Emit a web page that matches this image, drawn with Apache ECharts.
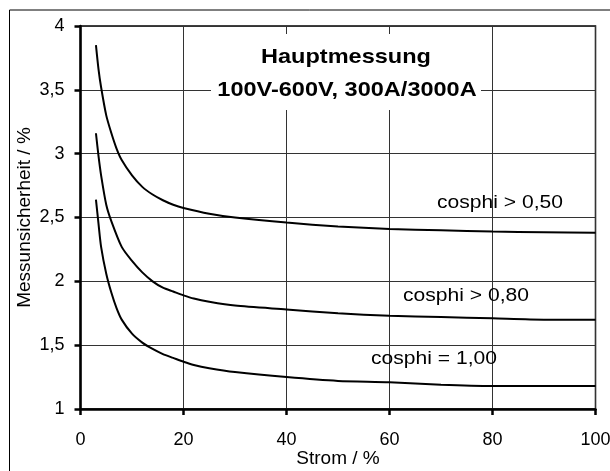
<!DOCTYPE html>
<html><head><meta charset="utf-8">
<script src="https://cdn.jsdelivr.net/npm/echarts@6/dist/echarts.min.js"></script>
<style>html,body{margin:0;padding:0;background:#fff}#c{width:610px;height:471px}</style>
</head><body><div id="c"></div>
<script>
const xTop = [3, 3.5, 4, 5, 6, 7, 8, 10, 12, 14, 16, 18, 20, 25, 30, 40, 50, 60, 70, 80, 90, 100];
const yTop = [3.85, 3.66, 3.52, 3.30, 3.16, 3.04, 2.95, 2.83, 2.74, 2.68, 2.635, 2.60, 2.575, 2.53, 2.50, 2.46, 2.43, 2.41, 2.40, 2.39, 2.385, 2.38];
const xMid = [3, 3.5, 4, 5, 6, 8, 10, 12, 14, 16, 18, 20, 22, 25, 30, 40, 50, 60, 70, 80, 90, 100];
const yMid = [3.16, 2.98, 2.83, 2.60, 2.47, 2.27, 2.16, 2.07, 2.00, 1.95, 1.92, 1.89, 1.865, 1.84, 1.81, 1.78, 1.75, 1.73, 1.72, 1.71, 1.70, 1.70];
const xLow = [3, 3.5, 4, 5, 6, 7, 8, 10, 12, 14, 16, 18, 20, 22, 25, 30, 40, 50, 60, 70, 80, 90, 100];
const yLow = [2.64, 2.45, 2.27, 2.06, 1.91, 1.79, 1.70, 1.59, 1.52, 1.47, 1.43, 1.40, 1.37, 1.345, 1.32, 1.29, 1.25, 1.22, 1.21, 1.19, 1.18, 1.18, 1.18];
const seriesNames = ['cosphi > 0,50', 'cosphi > 0,80', 'cosphi = 1,00'];
const titleLines = ['Hauptmessung', '100V-600V, 300A/3000A'];
const xAxisName = 'Strom / %';
const yAxisName = 'Messunsicherheit / %';

const pairs = (xs, ys) => xs.map((x, i) => [x, ys[i]]);
const FONT = '"Liberation Sans", Arial, sans-serif';
const chart = echarts.init(document.getElementById('c'), null, {renderer: 'canvas'});
const lineSeries = (name, data) => ({
  name, type: 'line', data, smooth: 0.25, showSymbol: false, symbol: 'none',
  lineStyle: {color: '#000', width: 2}, z: 5, animation: false
});
const label = (txt, x, y, font, sx) => ({type: 'text', x, y, z: 4, scaleX: sx,
  style: {text: txt, font, fill: '#000', align: 'center', verticalAlign: 'middle'}});
chart.setOption({
  animation: false,
  backgroundColor: '#fff',
  grid: {left: 80.5, right: 14.5, top: 26, bottom: 62, show: true, borderColor: '#000', borderWidth: 1.5,
    containLabel: false, outerBoundsMode: 'none'},
  xAxis: {
    type: 'value', min: 0, max: 100, interval: 20,
    name: xAxisName, nameLocation: 'middle', nameGap: 40, nameMoveOverlap: false,
    nameTextStyle: {color: '#000', fontSize: 19, fontFamily: FONT},
    axisLine: {show: true, lineStyle: {color: '#000', width: 2.5}},
    axisTick: {show: true, length: 6, lineStyle: {color: '#000', width: 2.5}},
    axisLabel: {color: '#000', fontSize: 18, fontFamily: FONT, margin: 22},
    splitLine: {show: true, lineStyle: {color: '#333', width: 1}}
  },
  yAxis: {
    type: 'value', min: 1, max: 4, interval: 0.5,
    name: yAxisName, nameLocation: 'middle', nameGap: 46, nameMoveOverlap: false,
    nameTextStyle: {color: '#000', fontSize: 19, fontFamily: FONT},
    axisLine: {show: true, lineStyle: {color: '#000', width: 2.5}},
    axisTick: {show: true, length: 6, lineStyle: {color: '#000', width: 2.5}},
    axisLabel: {color: '#000', fontSize: 18, fontFamily: FONT, margin: 16,
      formatter: v => String(v).replace('.', ',')},
    splitLine: {show: true, lineStyle: {color: '#333', width: 1}}
  },
  series: [
    lineSeries(seriesNames[0], pairs(xTop, yTop)),
    lineSeries(seriesNames[1], pairs(xMid, yMid)),
    lineSeries(seriesNames[2], pairs(xLow, yLow))
  ],
  graphic: [
    {type: 'line', shape: {x1: 9.5, y1: 10, x2: 9.5, y2: 471}, style: {stroke: '#000', lineWidth: 1}},
    {type: 'line', shape: {x1: 9.5, y1: 10, x2: 610, y2: 10}, style: {stroke: '#000', lineWidth: 1}},
    {type: 'rect', shape: {x: 211, y: 34, width: 270, height: 76}, style: {fill: '#fff'}, z: 3},
    label(titleLines[0], 346, 57, 'bold 21px ' + FONT, 1.12),
    label(titleLines[1], 347, 90, 'bold 21px ' + FONT, 1.12),
    label(seriesNames[0], 500, 203, '18px ' + FONT, 1.17),
    label(seriesNames[1], 466, 296, '18px ' + FONT, 1.17),
    label(seriesNames[2], 434, 359, '18px ' + FONT, 1.17)
  ]
});
</script></body></html>
